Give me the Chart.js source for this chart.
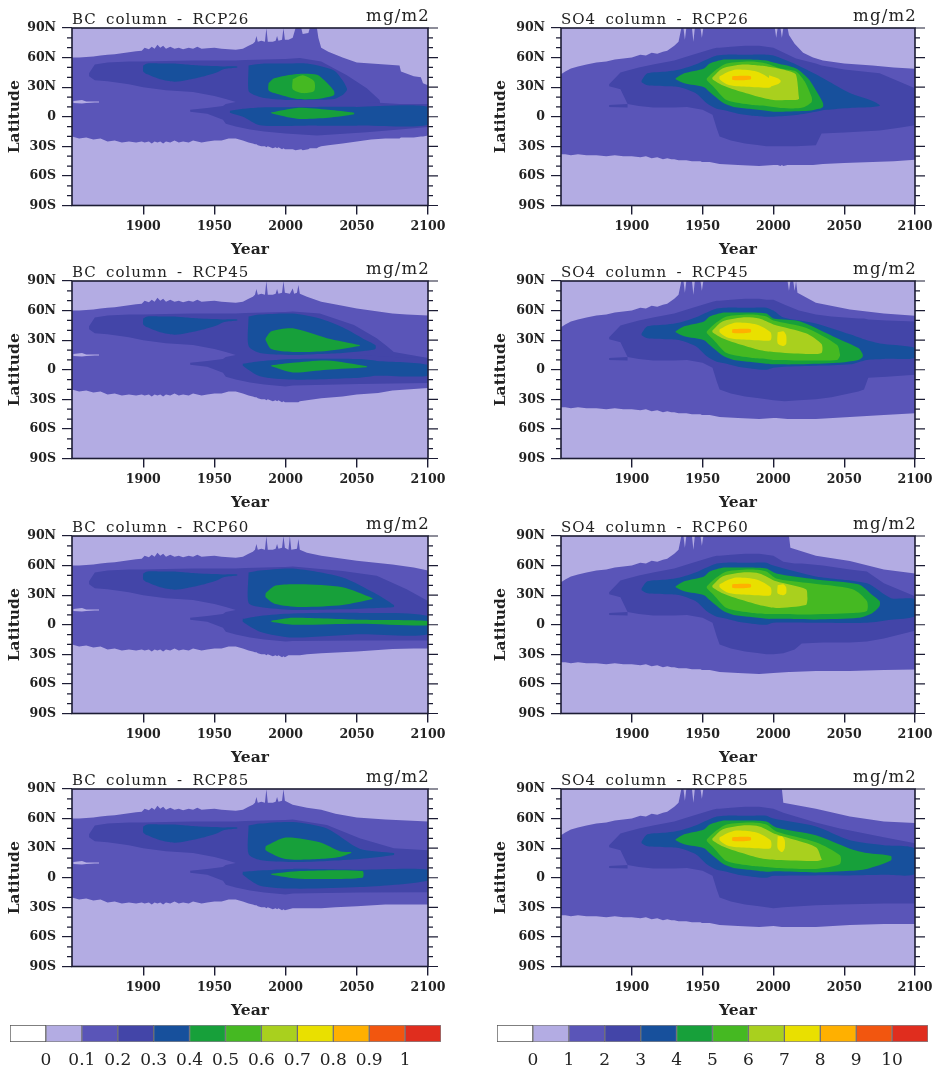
<!DOCTYPE html>
<html>
<head>
<meta charset="utf-8">
<title>BC and SO4 column - RCP scenarios</title>
<script src="https://cdn.jsdelivr.net/npm/chart.js@4/dist/chart.umd.min.js"></script>
<style>
  html, body { margin: 0; padding: 0; background: #fff; }
  #page { position: relative; width: 938px; height: 1066px; overflow: hidden; }
  #page div { position: absolute; }
  canvas { display: block; filter: blur(0.45px); }
</style>
</head>
<body>
<div id="page"></div>
<script>
// tick labels
const yearTicks = [1900, 1950, 2000, 2050, 2100];
const latTicks = [90, 60, 30, 0, -30, -60, -90];
const latLabels = ["90S", "60S", "30S", "0", "30N", "60N", "90N"];
const latMinorTicks = [80, 70, 50, 40, 20, 10, -10, -20, -40, -50, -70, -80];
const bcLevels = ["0", "0.1", "0.2", "0.3", "0.4", "0.5", "0.6", "0.7", "0.8", "0.9", "1"];
const so4Levels = ["0", "1", "2", "3", "4", "5", "6", "7", "8", "9", "10"];
const levelColors = ["#ffffff", "#b3ace3", "#5a55b8", "#4345a8", "#17509c", "#17a03a", "#45b922",
    "#a9d01e", "#e9e000", "#ffb000", "#f2560f", "#e02d1e"];

// contour lobes, rows are [year, northern edge, southern edge] in degrees
const wholeGlobe = [[1850,90,-90],[2100,90,-90]];

const bcOuterHist = [[1850,60,-20],[1855,60,-22],[1860,60.5,-21],[1865,61,-23],[1870,62,-22],[1875,63,-25],[1880,63.5,-24],[1885,64.5,-26],[1890,65.5,-25],[1895,66.5,-26],[1899,67,-25],[1901,70,-26],[1904,68.5,-25],[1906,71,-27],[1908,69,-25],[1910,73,-26],[1912,70,-25],[1914,72,-27],[1916,69,-25],[1919,71,-26],[1922,69,-24],[1925,70,-26],[1928,68.5,-25],[1932,70,-26],[1935,69,-24],[1938,71,-25],[1941,69,-26],[1945,69.5,-25],[1950,70,-24],[1955,69,-24],[1960,68.5,-22],[1965,68,-22],[1970,69,-24],[1974,72,-26],[1977,74,-27],[1978.5,76,-28],[1979.5,82,-28],[1980.5,76,-29],[1983,77,-30],[1985.5,76,-30],[1986.5,90,-31],[1987.5,76,-30],[1991,76,-32],[1993,77,-31],[1994,82,-32],[1995,77,-31],[1997.5,78,-33],[1998.5,90,-32],[1999.5,78,-33]];
const bc26Outer = [[2002,78,-33],[2005,80,-33],[2007,90,-34],[2011,90,-33],[2012,84,-34],[2016,85,-33],[2017,90,-32],[2022,90,-32],[2023,80,-31],[2025,70,-30],[2030,66,-29],[2040,60,-27],[2050,55,-25],[2060,54,-23],[2070,53,-22],[2080,52,-22],[2081,46,-21],[2090,41,-21],[2095,40,-20],[2096.5,34,-20],[2100,32,-19]];
const bc45Outer = [[2003,77,-33],[2005,82.5,-33],[2006,77,-33],[2008,78,-33],[2009,86,-33],[2010,77,-32],[2015,74,-31],[2025,69,-29],[2040,65,-27],[2050,62,-25],[2065,59,-23.5],[2075,57,-21],[2085,56,-20],[2100,55,-18.5]];
const bc60Outer = [[2002,76,-31],[2003,90,-31],[2004,76,-31],[2008,77,-31],[2009,87,-31],[2010,76,-31],[2015,73,-30],[2025,70,-29],[2050,65,-27],[2075,61,-24.5],[2090,58,-24],[2100,55,-24]];
const bc85Outer = [[2005,74,-31],[2015,71,-31],[2025,69,-31],[2035,65,-30],[2050,61,-29],[2070,59,-27],[2085,58,-27],[2100,57,-27]];
const bcSpeck = [[1851,16,14],[1857,17,13.5],[1860,15.5,14],[1866,15.5,14.5],[1869,15.5,14.5]];

const bcDarkHist = [[1862,44,41],[1866,53,37],[1875,55,36],[1890,56,33],[1900,56,30],[1916,56.5,27],[1935,57,25],[1950,57,21],[1958,57,18],[1965,57,15],[1972,57.5,13],[1985,58,12],[2000,58.5,12]];
const bc26Dark = [[2010,59.5,12],[2025,56,12],[2043,42,12],[2057,29,12],[2066,17,12],[2066.5,13,12]];
const bc45Dark = [[2005,59,12],[2024,57,12],[2048,45.5,12],[2064,32,12],[2071,24,12],[2076,18,12],[2100,12,10]];
const bc60Dark = [[2005,59,12],[2040,54.6,12],[2064,49.6,12],[2085,36,12],[2100,24,12]];
const bc85Dark = [[2005,59,12],[2029,53.6,12],[2052,40,12],[2076,30,12],[2100,28,12]];

const bcSouthHist = [[1933,7,5],[1945,9,3],[1956,11,-3],[1958,13,-7],[1965,15,-10],[1975,15,-13],[1985,15,-15],[2000,15,-17]];
const bc26South = [[2022,15,-19],[2057,15,-15.6],[2080,13,-13],[2100,13,-10.5]];
const bc45South = [[2005,15,-16],[2052,15,-14.5],[2076,13,-14],[2100,12,-13.5]];
const bc60South = [[2005,15,-16.6],[2052,15,-16],[2100,15,-16]];
const bc85South = [[2005,15,-16],[2052,15,-15],[2100,15,-14.6]];

const bcBlueHist = [[1900,52,46],[1903,54,43],[1912,54,38],[1922,54,35.5],[1930,53,37],[1940,52,40],[1950,51.5,44],[1957,51,48.5],[1966,51,50]];
const bc26BlueN = [[1974,52,26],[1978,53,22],[1985,54,19],[2000,54,17],[2015,54,17],[2034,47,18],[2040,37,22],[2043,29,27]];
const bc45BlueN = [[1974,54,24],[1982,56,17],[2005,57,15],[2024,52,16],[2040,43,17],[2055,31,19],[2063,25,21]];
const bc60BlueN = [[1974,53,22],[1982,55,18],[2005,57,15],[2040,48,15.6],[2064,31,17],[2076,20,18]];
const bc85BlueN = [[1974,53,24],[1982,55,18],[2005,56.5,16],[2029,50,17],[2052,29.5,19],[2076,25,23]];
const bc26BlueS = [[1961,6,4],[1970,8,0],[1982,9.5,-8.6],[2022,10,-9],[2050,10,-9],[2100,10,-8]];
const bc45BlueS = [[1970,6,4],[1982,8.5,-6.7],[2005,10.8,-10],[2052,10.8,-8],[2064,9,-6],[2100,5,-6]];
const bc60BlueS = [[1970,6,3],[1982,9,-7],[2005,11.4,-13],[2052,12,-9.7],[2100,8.8,-9.7]];
const bc85BlueS = [[1970,6,3],[1982,7.4,-8],[2005,9,-11],[2052,8,-9.5],[2100,8,-2.7]];

const bc26GreenN = [[1988,34,27],[1992,39,24],[2008,43.4,18],[2022,42.5,18],[2030,33,20],[2034,26,22]];
const bc45GreenN = [[1986,32,30],[1990,39,21],[2005,42,18],[2029,32,19],[2052,25,24]];
const bc60GreenN = [[1986,32,28],[1993,39.7,21],[2010,41,18],[2040,38,20],[2061,27,26]];
const bc85GreenN = [[1986,32,28],[2000,40.7,19],[2024,36,19],[2038,27,21],[2046,26,25]];
const bc26GreenS = [[1990,4.5,3.5],[2008,9,-2],[2030,7,-1],[2048,4,2.5]];
const bc45GreenS = [[1990,4.5,3.5],[2005,7,-2.7],[2029,9.4,0],[2057,3.5,2.5]];
const bc60GreenS = [[1990,4,3],[2005,7,0],[2052,5,1],[2100,3.7,-0.7]];
const bc85GreenS = [[1990,4,3],[2010,6.8,-1],[2054,6.8,0]];
const bc26Bright = [[2005,38,28],[2012,42,24],[2020,36,26]];

const so4OuterHist = [[1850,43,-38],[1853,46,-38],[1857,49,-39],[1862,51,-38],[1868,53,-39],[1875,55,-39],[1882,56,-40],[1888,58,-39],[1894,59,-40],[1900,60,-40],[1906,63,-41],[1910,62,-40],[1914,65,-42],[1918,64,-41],[1922,66,-43],[1925,67,-42],[1928,70,-43],[1930,72,-43],[1933,76,-44],[1935,90,-44],[1936.5,90,-44],[1937.5,78,-44],[1938.5,90,-44],[1942.5,90,-45],[1943.5,76,-45],[1944.5,90,-45],[1948.5,90,-45],[1949.5,80,-46],[1950.5,90,-46],[1955,90,-46],[1962,90,-48],[1975,90,-49],[1990,90,-50],[2000,90,-49]];
const so426Outer = [[2001,90,-49],[2002,80,-49],[2003,90,-49],[2005,90,-50],[2006,80,-49],[2007,90,-50],[2010,90,-49],[2011,83,-49],[2015,74,-49],[2021,65,-49],[2028,60,-49],[2035,57,-48],[2050,54,-47],[2070,52,-46],[2085,50,-45],[2100,48.7,-43.6]];
const so445Outer = [[2002,90,-49],[2010,90,-50],[2011,80,-50],[2012,90,-50],[2014,90,-50],[2015,80,-50],[2016,90,-50],[2017,78,-50],[2030,68,-50],[2054,61,-48],[2078,57,-46],[2100,54.8,-44]];
const so460Outer = [[2011,90,-48],[2012,78,-48],[2030,70,-47],[2054,64.7,-47],[2078,56,-46],[2100,52,-45.5]];
const so485Outer = [[2006,90,-50],[2007,76,-50],[2030,70,-50],[2054,62,-48],[2078,57,-47],[2100,55.5,-47]];

const so4DarkHist = [[1884,33,31],[1892,45,28],[1897,47,13],[1905,50,11],[1915,53,9.5],[1930,57,9.5],[1939,61,10],[1950,66,7],[1957,69,2],[1960,70,-12],[1962,70,-20],[1970,71,-24],[1980,72,-27],[1990,72,-29],[1995,71,-30]];
const so4DarkTail = [[1884,12,10],[1897,13,9.5]];
const so426Dark = [[2000,70,-30],[2016,59,-30],[2030,54,-29],[2034,52,-17],[2050,48,-16],[2075,44,-14],[2090,35,-11],[2100,29,-8.5]];
const so445Dark = [[2000,71,-31],[2008,66,-32],[2018,60,-31],[2030,56,-30],[2041,54,-28],[2060,52,-22],[2064,52,-20],[2067,51,-8],[2080,50,-7],[2100,49,-5]];
const so460Dark = [[2000,70,-30],[2007,64,-29],[2015,62,-25],[2020,62,-19],[2035,60,-18],[2054,56,-18],[2066,54,-17],[2078,42,-14],[2100,29,-6]];
const so485Dark = [[2000,70,-31],[2007,66,-30],[2030,56,-28],[2047,50,-27],[2078,41,-26],[2100,35,-26]];

const so4BlueHist = [[1907,37,35],[1911,44,32],[1925,46,31],[1934,48,30],[1945,53,24],[1953,58,13.6],[1960,62,8],[1967,63,6],[1975,63,3],[1985,63,1],[1995,63,0]];
const so426Blue = [[2000,62,0],[2016,53,1.7],[2030,43,5],[2037,37.5,7],[2054,24,9],[2070,16,10],[2075,12,11]];
const so445Blue = [[2000,60,2],[2007,53,3],[2030,47,4],[2054,36,5.5],[2066,30,10],[2078,26,11],[2100,22,12]];
const so460Blue = [[2000,60,2],[2030,49,2],[2066,42,2],[2083,27,5],[2100,25.7,8.8]];
const so485Blue = [[2000,60,2],[2030,52,2.4],[2054,38,2.4],[2078,33,3],[2100,29.5,4]];

const so4GreenHist = [[1931,39,38],[1937,44,34],[1951,49,30],[1955,54,25],[1965,58,13.6],[1972,58,10],[1983,58,8],[1995,57,6]];
const so426Green = [[2000,55,5],[2016,49,5.5],[2025,38,6],[2032,22,8],[2035,14,10]];
const so445Green = [[2000,52,5.5],[2019,49,5.5],[2045,32,7],[2060,22,10],[2063,16,13]];
const so460Green = [[2002,52,6],[2030,46,5.4],[2060,41,7],[2070,30,12],[2075,24,19]];
const so485Green = [[2002,51,6.5],[2030,43,5.4],[2054,29.5,7],[2066,25,9],[2083,22,17.5]];

const so4BrightHist = [[1953,39,37],[1958,46,30],[1967,54,17],[1985,56,12],[1995,54,11]];
const so426Bright = [[2005,49,9],[2016,46,8.5],[2022,36,10],[2027,20,15]];
const so445Bright = [[2000,50,10],[2023,42.5,9.5],[2045,25,10],[2047,16,14]];
const so460Bright = [[2002,47,11],[2023,42.5,10.5],[2056,36,12],[2066,24,14]];
const so485Bright = [[2002,47,10],[2030,36,9],[2047,22.7,14]];

const so4LimeHist = [[1957,40,38],[1964,49,32],[1978,53,25],[1990,52,20]];
const so426Lime = [[2000,50,17],[2012,46,17],[2016,42.6,17],[2018,20,18]];
const so445Lime = [[2000,46,18],[2023,37,16],[2034,26,17]];
const so460Lime = [[2002,44,17],[2023,36,20],[2024,28,25]];
const so485Lime = [[2002,44,18],[2030,31,17],[2034,19,18]];

const so4Yellow = [[1962,41,38],[1967,45,33],[1974,48,31],[1988,46,30],[1998,38,30]];
const so426YellowSpot = [[1997,42,31],[2003,39,33],[2005,37,35]];
const so445YellowSpot = [[2003,38,27],[2007,39,24],[2009,35,26]];
const so460YellowSpot = [[2003,40,32],[2007,41,30],[2009,38,32]];
const so485YellowSpot = [[2003,42,30],[2006,42,26],[2008,38,30]];
const so4OrangeSpot = [[1971,41,37.5],[1978,41.5,37],[1984,41,38]];

function bcLayers(outer, dark, south, blueN, blueS, greenN, greenS) {
    return [
        [wholeGlobe, 1],
        [bcOuterHist.concat(outer), 2],
        [bcSpeck, 1],
        [bcDarkHist.concat(dark), 3],
        [bcSouthHist.concat(south), 3],
        [bcBlueHist, 4],
        [blueN, 4],
        [blueS, 4],
        [greenN, 5],
        [greenS, 5],
    ];
}

function so4Layers(outer, dark, blue, green, bright, lime, spot) {
    return [
        [wholeGlobe, 1],
        [so4OuterHist.concat(outer), 2],
        [so4DarkHist.concat(dark), 3],
        [so4DarkTail, 3],
        [so4BlueHist.concat(blue), 4],
        [so4GreenHist.concat(green), 5],
        [so4BrightHist.concat(bright), 6],
        [so4LimeHist.concat(lime), 7],
        [so4Yellow, 8],
        [spot, 8],
        [so4OrangeSpot, 9],
    ];
}

// close a lobe: north edge west to east, south edge back
function lobeOutline(rows) {
    const north = rows.map((r) => ({ x: r[0], y: r[1] }));
    const south = rows.slice().reverse().map((r) => ({ x: r[0], y: r[2] }));
    return north.concat(south, [north[0]]);
}

const frameColor = "#1c1c34";
const tickFont = { family: "'DejaVu Serif', serif", size: 12.5, weight: "bold" };
const axisFont = { family: "'DejaVu Serif', serif", size: 15.5, weight: "bold" };

// frame, right hand and minor ticks and the two headers
const panelFrame = {
    id: "panelFrame",
    afterDraw(chart, args, opts) {
        const { ctx, chartArea: a, scales } = chart;
        ctx.save();
        ctx.strokeStyle = frameColor;
        ctx.lineWidth = 1.6;
        ctx.strokeRect(a.left, a.top, a.right - a.left, a.bottom - a.top);
        ctx.lineWidth = 1.2;
        ctx.beginPath();
        latTicks.forEach((v) => {
            const y = scales.y.getPixelForValue(v);
            ctx.moveTo(a.right, y);
            ctx.lineTo(a.right + 10, y);
        });
        latMinorTicks.forEach((v) => {
            const y = scales.y.getPixelForValue(v);
            ctx.moveTo(a.left - 5, y);
            ctx.lineTo(a.left, y);
            ctx.moveTo(a.right, y);
            ctx.lineTo(a.right + 5, y);
        });
        ctx.stroke();
        ctx.fillStyle = "#222";
        ctx.textBaseline = "alphabetic";
        ctx.font = "15px 'DejaVu Serif', serif";
        ctx.letterSpacing = "1px";
        ctx.wordSpacing = "3.5px";
        ctx.textAlign = "left";
        ctx.fillText(opts.title, a.left, a.top - 4);
        ctx.font = "16.5px 'DejaVu Serif', serif";
        ctx.letterSpacing = "1.2px";
        ctx.textAlign = "right";
        ctx.fillText("mg/m2", a.right + 2, a.top - 7);
        ctx.restore();
    },
};

function addCanvas(left, top, width, height) {
    const box = document.createElement("div");
    box.style.cssText = `left:${left}px;top:${top}px;width:${width}px;height:${height}px`;
    const canvas = document.createElement("canvas");
    canvas.width = width;
    canvas.height = height;
    box.appendChild(canvas);
    document.getElementById("page").appendChild(box);
    return canvas;
}

function renderPanel(panel) {
    const canvas = addCanvas(panel.left, panel.top, panel.width, 259);
    const datasets = panel.layers.map(([rows, level], i) => ({
        data: lobeOutline(rows),
        fill: "shape",
        backgroundColor: levelColors[level],
        borderWidth: 0,
        pointRadius: 0,
        tension: level >= 4 ? 0.25 : 0,
        order: -i,
    }));
    new Chart(canvas, {
        type: "line",
        data: { datasets },
        plugins: [panelFrame],
        options: {
            responsive: false,
            animation: false,
            layout: { padding: { top: 28, right: panel.right } },
            plugins: {
                legend: { display: false },
                tooltip: { enabled: false },
                panelFrame: { title: panel.title },
            },
            scales: {
                x: {
                    type: "linear",
                    min: 1850,
                    max: 2100,
                    afterBuildTicks: (s) => { s.ticks = yearTicks.map((value) => ({ value })); },
                    afterFit: (s) => { s.height = 53.5; },
                    grid: { drawOnChartArea: false, tickLength: 9, color: frameColor, lineWidth: 1.4 },
                    border: { display: false },
                    ticks: { color: "#222", font: tickFont, padding: 5, maxRotation: 0, autoSkip: false, callback: (v) => String(v) },
                    title: { display: true, text: "Year", color: "#222", font: axisFont, padding: 0 },
                },
                y: {
                    min: -90,
                    max: 90,
                    afterBuildTicks: (s) => { s.ticks = latTicks.slice().reverse().map((value) => ({ value })); },
                    afterFit: (s) => { s.width = panel.axisWidth; },
                    grid: { drawOnChartArea: false, tickLength: 10, color: frameColor, lineWidth: 1.2 },
                    border: { display: false },
                    ticks: { color: "#222", font: tickFont, padding: 6, autoSkip: false, callback: (v) => latLabels[latTicks.slice().reverse().indexOf(v)] },
                    title: { display: true, text: "Latitude", color: "#222", font: axisFont, padding: { top: panel.titleInset, bottom: 0 } },
                },
            },
        },
    });
}

function renderColorbar(left, width, levels) {
    const canvas = addCanvas(left, 1014, width, 52);
    const names = levelColors.map((c, i) => i);
    new Chart(canvas, {
        type: "bar",
        data: {
            labels: [""],
            datasets: names.map((i) => ({
                data: [1],
                backgroundColor: levelColors[i],
                borderColor: i === 0 ? "#555" : "rgba(30,30,40,0.55)",
                borderWidth: 1,
                borderSkipped: false,
                categoryPercentage: 1,
                barPercentage: 1,
            })),
        },
        options: {
            indexAxis: "y",
            responsive: false,
            animation: false,
            layout: { padding: { top: 11, left: 10, right: 10 } },
            plugins: { legend: { display: false }, tooltip: { enabled: false } },
            scales: {
                x: {
                    stacked: true,
                    min: 0,
                    max: levelColors.length,
                    afterBuildTicks: (s) => { s.ticks = levels.map((l, i) => ({ value: i + 1 })); },
                    afterFit: (s) => { s.height = 24; },
                    grid: { display: false },
                    border: { display: false },
                    ticks: { color: "#222", font: { family: "'DejaVu Serif', serif", size: 17 }, padding: 0, maxRotation: 0, autoSkip: false, callback: (v) => levels[v - 1] },
                },
                y: { stacked: true, display: false },
            },
        },
    });
}

document.addEventListener("DOMContentLoaded", () => {
    const bcCol = { left: 0, width: 470, axisWidth: 72, right: 42, titleInset: 6 };
    const so4Col = { left: 480, width: 458, axisWidth: 81, right: 23, titleInset: 12 };
    const panels = [
        { ...bcCol, title: "BC column - RCP26", top: 0, layers: bcLayers(bc26Outer, bc26Dark, bc26South, bc26BlueN, bc26BlueS, bc26GreenN, bc26GreenS).concat([[bc26Bright, 6]]) },
        { ...so4Col, title: "SO4 column - RCP26", top: 0, layers: so4Layers(so426Outer, so426Dark, so426Blue, so426Green, so426Bright, so426Lime, so426YellowSpot) },
        { ...bcCol, title: "BC column - RCP45", top: 253, layers: bcLayers(bc45Outer, bc45Dark, bc45South, bc45BlueN, bc45BlueS, bc45GreenN, bc45GreenS) },
        { ...so4Col, title: "SO4 column - RCP45", top: 253, layers: so4Layers(so445Outer, so445Dark, so445Blue, so445Green, so445Bright, so445Lime, so445YellowSpot) },
        { ...bcCol, title: "BC column - RCP60", top: 508, layers: bcLayers(bc60Outer, bc60Dark, bc60South, bc60BlueN, bc60BlueS, bc60GreenN, bc60GreenS) },
        { ...so4Col, title: "SO4 column - RCP60", top: 508, layers: so4Layers(so460Outer, so460Dark, so460Blue, so460Green, so460Bright, so460Lime, so460YellowSpot) },
        { ...bcCol, title: "BC column - RCP85", top: 761, layers: bcLayers(bc85Outer, bc85Dark, bc85South, bc85BlueN, bc85BlueS, bc85GreenN, bc85GreenS) },
        { ...so4Col, title: "SO4 column - RCP85", top: 761, layers: so4Layers(so485Outer, so485Dark, so485Blue, so485Green, so485Bright, so485Lime, so485YellowSpot) },
    ];
    panels.forEach(renderPanel);
    renderColorbar(0, 451, bcLevels);
    renderColorbar(487, 451, so4Levels);
});
</script>
</body>
</html>
